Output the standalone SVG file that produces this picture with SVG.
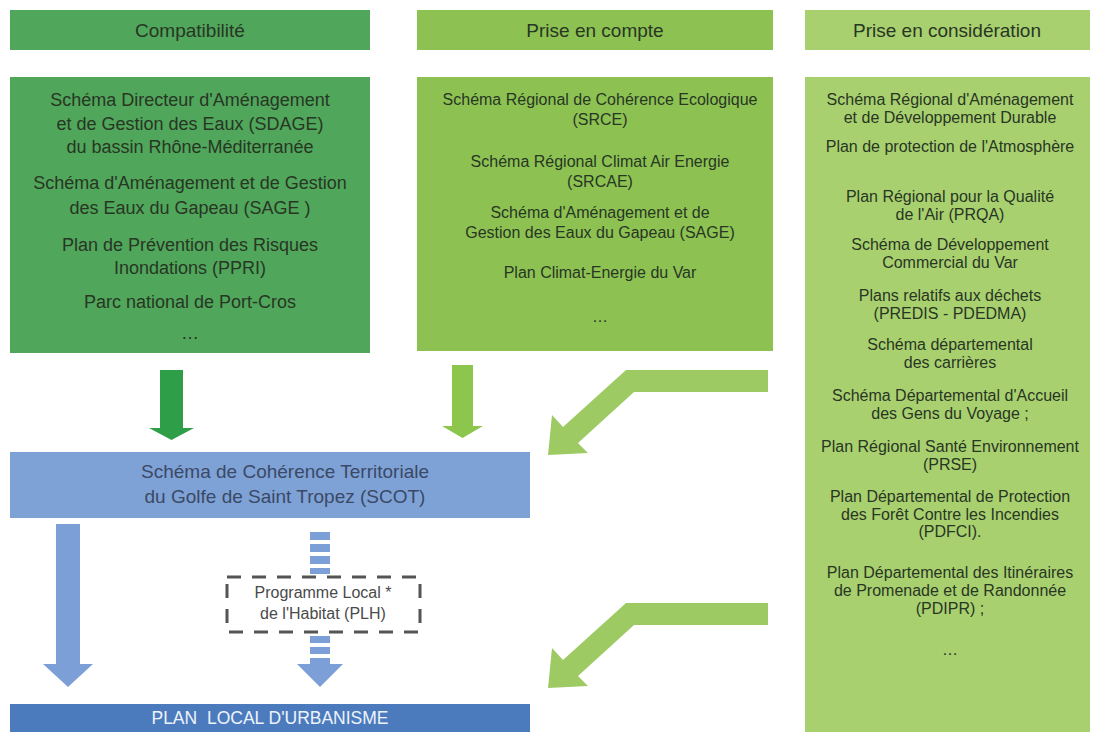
<svg xmlns="http://www.w3.org/2000/svg" width="1093" height="732" viewBox="0 0 1093 732">
<style>
text{font-family:"Liberation Sans",Arial,sans-serif;text-anchor:middle;fill:#283624}
.h{font-size:19px}
.l{font-size:18px}
.m{font-size:16px}
.r{font-size:16px}
.scot{font-size:19px;fill:#3a4966}
.plu{font-size:17.5px;fill:#eef3fb}
.plh{font-size:16px;fill:#4a4a4a}
</style>
<rect width="1093" height="732" fill="#ffffff"/>
<g id="head-compat"><rect x="10" y="10" width="360" height="40" fill="#50a65b"/><text class="h" x="190" y="37">Compatibilité</text></g>
<g id="head-compte"><rect x="417" y="10" width="356" height="40" fill="#8dc253"/><text class="h" x="595" y="37">Prise en compte</text></g>
<g id="head-consid"><rect x="805" y="10" width="285" height="40" fill="#a9d06f"/><text class="h" x="947" y="37">Prise en considération</text></g>
<g id="box-compat"><rect x="10" y="77" width="360" height="276" fill="#50a65b"/>
<text class="l" x="190" y="106">Schéma Directeur d'Aménagement</text>
<text class="l" x="190" y="130">et de Gestion des Eaux (SDAGE)</text>
<text class="l" x="190" y="153">du bassin Rhône-Méditerranée</text>
<text class="l" x="190" y="189">Schéma d'Aménagement et de Gestion</text>
<text class="l" x="190" y="214">des Eaux du Gapeau (SAGE )</text>
<text class="l" x="190" y="251">Plan de Prévention des Risques</text>
<text class="l" x="190" y="274">Inondations (PPRI)</text>
<text class="l" x="190" y="308">Parc national de Port-Cros</text>
<text class="l" x="190" y="339">…</text>
</g>
<g id="box-compte"><rect x="417" y="77" width="356" height="274" fill="#8dc253"/>
<text class="m" x="600" y="105">Schéma Régional de Cohérence Ecologique</text>
<text class="m" x="600" y="125">(SRCE)</text>
<text class="m" x="600" y="167">Schéma Régional Climat Air Energie</text>
<text class="m" x="600" y="187">(SRCAE)</text>
<text class="m" x="600" y="218">Schéma d'Aménagement et de</text>
<text class="m" x="600" y="238">Gestion des Eaux du Gapeau (SAGE)</text>
<text class="m" x="600" y="278">Plan Climat-Energie du Var</text>
<text class="m" x="600" y="322">…</text>
</g>
<g id="box-consid"><rect x="805" y="77" width="285" height="655" fill="#a9d06f"/>
<text class="r" x="950" y="105">Schéma Régional d'Aménagement</text>
<text class="r" x="950" y="123">et de Développement Durable</text>
<text class="r" x="950" y="152">Plan de protection de l'Atmosphère</text>
<text class="r" x="950" y="202">Plan Régional pour la Qualité</text>
<text class="r" x="950" y="220">de l'Air (PRQA)</text>
<text class="r" x="950" y="250">Schéma de Développement</text>
<text class="r" x="950" y="268">Commercial du Var</text>
<text class="r" x="950" y="301">Plans relatifs aux déchets</text>
<text class="r" x="950" y="319">(PREDIS - PDEDMA)</text>
<text class="r" x="950" y="350">Schéma départemental</text>
<text class="r" x="950" y="368">des carrières</text>
<text class="r" x="950" y="401">Schéma Départemental d'Accueil</text>
<text class="r" x="950" y="419">des Gens du Voyage ;</text>
<text class="r" x="950" y="452">Plan Régional Santé Environnement</text>
<text class="r" x="950" y="470">(PRSE)</text>
<text class="r" x="950" y="502">Plan Départemental de Protection</text>
<text class="r" x="950" y="520">des Forêt Contre les Incendies</text>
<text class="r" x="950" y="537">(PDFCI).</text>
<text class="r" x="950" y="578">Plan Départemental des Itinéraires</text>
<text class="r" x="950" y="596">de Promenade et de Randonnée</text>
<text class="r" x="950" y="614">(PDIPR) ;</text>
<text class="r" x="950" y="655">…</text>
</g>
<g id="scot"><rect x="10" y="452" width="520" height="66" fill="#7fa2d6"/>
<text class="scot" x="285" y="478">Schéma de Cohérence Territoriale</text>
<text class="scot" x="285" y="503">du Golfe de Saint Tropez (SCOT)</text>
</g>
<g id="plh"><rect x="227" y="577" width="193" height="55" fill="none" stroke="#555" stroke-width="3" stroke-dasharray="14 11"/>
<text class="plh" x="323" y="598">Programme Local *</text>
<text class="plh" x="323" y="619">de l'Habitat (PLH)</text>
</g>
<g id="plu"><rect x="10" y="704" width="520" height="28" fill="#4b7bbd"/>
<text class="plu" x="270" y="724">PLAN&#160; LOCAL D'URBANISME</text>
</g>
<g id="connectors">
<polygon fill="#2f9e49" points="160,370 183,370 183,428 194,428 171.5,440 149,428 160,428"/>
<polygon fill="#8cc64c" points="452,365 473,365 473,426 483,426 462.5,438 442,426 452,426"/>
<polygon fill="#9dca63" points="768,370 626,370 563,427 552,415 548,455 588,453 578,443 634,392 768,392"/>
<polygon fill="#9dca63" points="768,603 626,603 563,660 552,648 548,688 588,686 578,676 634,625 768,625"/>
<polygon fill="#7c9fd8" points="56,524 80,524 80,664 93,664 68,687 43,664 56,664"/>
<g fill="#7c9fd8">
<rect x="310" y="532" width="20" height="8"/>
<rect x="310" y="544" width="20" height="8"/>
<rect x="310" y="556" width="20" height="8"/>
<rect x="310" y="568" width="20" height="6"/>
<rect x="310" y="636" width="20" height="7"/>
<rect x="310" y="647" width="20" height="7"/>
<polygon points="310,658 330,658 330,664 343,664 320,687 297,664 310,664"/>
</g>
</g>
</svg>
